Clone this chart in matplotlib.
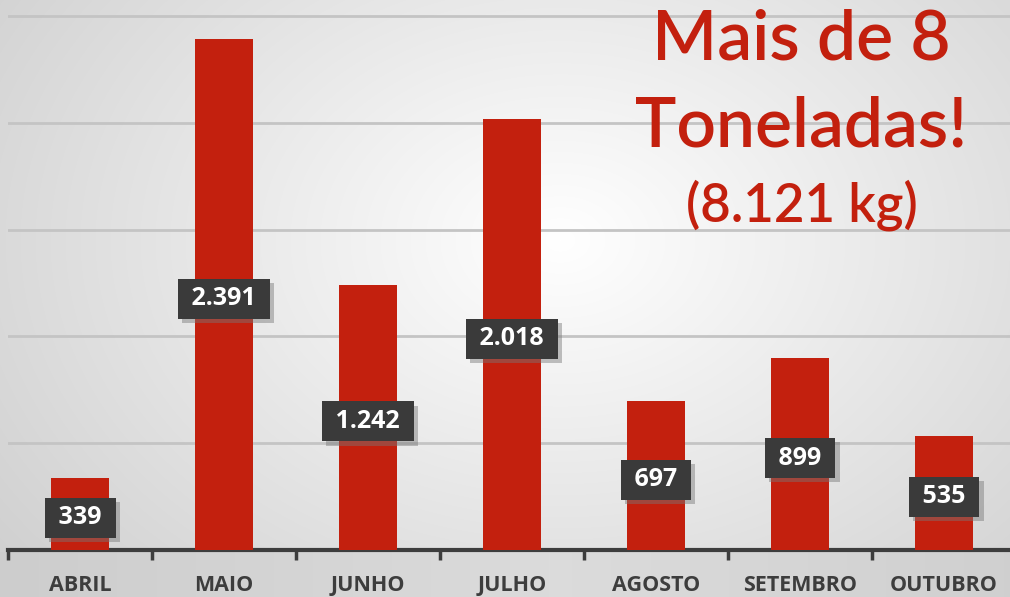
import numpy as np
import matplotlib
matplotlib.use('Agg')
import matplotlib.pyplot as plt
import matplotlib.patheffects as pe
from matplotlib import transforms

meses = ['ABRIL', 'MAIO', 'JUNHO', 'JULHO', 'AGOSTO', 'SETEMBRO', 'OUTUBRO']
quilos = [339, 2391, 1242, 2018, 697, 899, 535]
rotulos = ['339', '2.391', '1.242', '2.018', '697', '899', '535']

vermelho = '#c3200e'
cinza_escuro = '#3d3d3d'

fig = plt.figure(figsize=(10.10, 5.97), dpi=100)

# fundo com degradê
bg = fig.add_axes([0, 0, 1, 1], zorder=0)
yy, xx = np.mgrid[0:597, 0:1010]
d = np.sqrt(((xx - 560) / 650.0) ** 2 + ((yy - 240) / 480.0) ** 2)
v = 1.0 - 0.17 * np.clip(d, 0, 1.2)
faixa = yy > 551
v[faixa] = 0.79 + 0.07 * np.clip(1 - np.abs(xx[faixa] - 560) / 700.0, 0, 1)
img = np.dstack([v, v, v])
bg.imshow(img, aspect='auto', extent=[0, 1, 0, 1], origin='upper')
bg.set_axis_off()

ax = fig.add_axes([8 / 1010, 47 / 597, 1008 / 1010, 550 / 597], zorder=1)
ax.patch.set_alpha(0)

x = np.arange(len(meses))
ax.bar(x, quilos, width=0.40, color=vermelho, zorder=3)

ax.set_xlim(-0.5, 6.5)
ax.set_ylim(0, 2576)
ax.set_yticks([500, 1000, 1500, 2000, 2500])
ax.yaxis.grid(True, color='#c4c4c4', lw=2)
ax.set_axisbelow(True)
ax.tick_params(axis='y', length=0, labelleft=False)

for lado in ['top', 'right', 'left']:
    ax.spines[lado].set_visible(False)
ax.spines['bottom'].set_color(cinza_escuro)
ax.spines['bottom'].set_linewidth(3)

ax.set_xticks(np.arange(-0.5, 7, 1))
ax.set_xticklabels([])
ax.tick_params(axis='x', which='major', length=7, width=2.5, color=cinza_escuro, direction='out')
ax.set_xticks(x, minor=True)
ax.set_xticklabels(meses, minor=True, fontsize=15.5, fontweight='bold', color=cinza_escuro,
                   family=['Open Sans', 'DejaVu Sans'])
ax.tick_params(axis='x', which='minor', length=0, pad=18)

desloc = ax.transData + transforms.ScaledTranslation(0, -4 / 100, fig.dpi_scale_trans)
for i, (q, r) in enumerate(zip(quilos, rotulos)):
    t = ax.text(i, q / 2, ' ' + r + ' ', ha='center', va='center', fontsize=18, fontweight='bold',
                color='white', zorder=5, family=['Open Sans', 'DejaVu Sans'], transform=desloc,
                bbox=dict(boxstyle='square,pad=0.3', fc='#3a3a3a', ec='none'))
    t.get_bbox_patch().set_path_effects([
        pe.SimplePatchShadow(offset=(3, -3), shadow_rgbFace='#777777', alpha=0.45),
        pe.Normal()])

fig.text(801 / 1010, 1 - 40 / 597, 'Mais de 8', ha='center', va='center', fontsize=50,
         color=vermelho, fontweight='semibold', family=['Lato', 'DejaVu Sans'])
fig.text(801 / 1010, 1 - 127 / 597, 'Toneladas!', ha='center', va='center', fontsize=50,
         color=vermelho, fontweight='semibold', family=['Lato', 'DejaVu Sans'])
fig.text(802 / 1010, 1 - 205 / 597, '(8.121 kg)', ha='center', va='center', fontsize=38,
         color=vermelho, fontweight='semibold', family=['Lato', 'DejaVu Sans'])

fig.savefig('out.png', dpi=100)
